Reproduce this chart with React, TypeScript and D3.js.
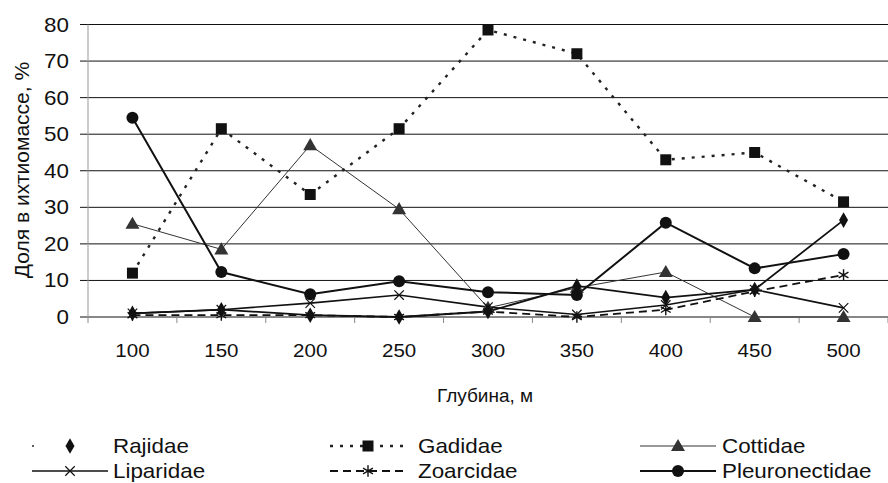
import React from "react";
import * as d3 from "d3";

const depths = ["100", "150", "200", "250", "300", "350", "400", "450", "500"];
const yTicks = [0, 10, 20, 30, 40, 50, 60, 70, 80];

const rajidae = [1, 2, 0.5, 0, 1.5, 8.5, 5.3, 7.5, 26.5];
const gadidae = [12, 51.5, 33.5, 51.5, 78.5, 72, 43, 45, 31.5];
const cottidae = [25.5, 18.5, 47, 29.5, 2.5, 8, 12.3, 0, 0];
const liparidae = [1, 2, 3.8, 6, 2.7, 0.7, 3.3, 7.5, 2.5];
const zoarcidae = [0.5, 0.5, 0.5, 0, 1.5, 0, 2, 7, 11.5];
const pleuronectidae = [54.5, 12.3, 6.2, 9.8, 6.8, 6, 25.8, 13.3, 17.2];

const yTitle = "Доля в ихтиомассе, %";
const xTitle = "Глубина, м";

type Series = {
  name: string;
  values: number[];
  marker: string;
  width: number;
  dash?: string;
  color: string;
};

const series: Series[] = [
  { name: "Cottidae", values: cottidae, marker: "triangle", width: 1, color: "#333" },
  { name: "Gadidae", values: gadidae, marker: "square", width: 2.4, dash: "3,7", color: "#222" },
  { name: "Liparidae", values: liparidae, marker: "times", width: 1.6, color: "#111" },
  { name: "Zoarcidae", values: zoarcidae, marker: "asterisk", width: 1.8, dash: "8,5", color: "#111" },
  { name: "Rajidae", values: rajidae, marker: "diamond", width: 1.8, color: "#111" },
  { name: "Pleuronectidae", values: pleuronectidae, marker: "circle", width: 2, color: "#111" },
];

const W = 888;
const H = 483;
const FONT = "'Liberation Sans', Arial, sans-serif";

const x = d3.scaleBand<string>().domain(depths).range([88, 888]).padding(0);
const y = d3.scaleLinear().domain([0, 80]).range([317, 24.5]);
const cx = (d: string) => (x(d) as number) + x.bandwidth() / 2;

function Marker({ type, px, py, color }: { type: string; px: number; py: number; color: string }) {
  const t = `translate(${px},${py})`;
  if (type === "circle") return <circle cx={px} cy={py} r={6} fill={color} />;
  if (type === "square")
    return <path transform={t} d={d3.symbol(d3.symbolSquare, 121)() as string} fill="#111" />;
  if (type === "triangle")
    return <path transform={`translate(${px},${py + 1})`} d={d3.symbol(d3.symbolTriangle, 85)() as string} fill={color} />;
  if (type === "diamond")
    return <path transform={t} d={d3.symbol(d3.symbolDiamond, 70)() as string} fill={color} />;
  if (type === "times")
    return <path transform={t} d={d3.symbol(d3.symbolTimes, 60)() as string} fill="none" stroke={color} strokeWidth={1.2} />;
  if (type === "asterisk")
    return <path transform={t} d={d3.symbol(d3.symbolAsterisk, 90)() as string} fill="none" stroke={color} strokeWidth={1.4} />;
  return null;
}

function HText({ x0, y0, anchor, size, sx, children }: any) {
  return (
    <text
      transform={`translate(${x0},${y0}) scale(${sx},1)`}
      textAnchor={anchor}
      fontSize={size}
      fontFamily={FONT}
      fill="#111"
    >
      {children}
    </text>
  );
}

export default function App() {
  const line = d3
    .line<number>()
    .x((_, i) => cx(depths[i]))
    .y((v) => y(v));

  const legend = [
    { s: series[4], lx: 32, ly: 446, tx: 113, noLine: true },
    { s: series[2], lx: 32, ly: 471, tx: 113 },
    { s: series[1], lx: 330, ly: 446, tx: 418 },
    { s: series[3], lx: 330, ly: 471, tx: 418 },
    { s: series[0], lx: 640, ly: 446, tx: 722 },
    { s: series[5], lx: 640, ly: 471, tx: 722 },
  ];

  return (
    <div style={{ position: "fixed", left: 0, top: 0 }}>
      <svg width={W} height={H} style={{ display: "block", background: "#fff" }}>
        {/* gridlines */}
        {yTicks.map((t) => (
          <line key={t} x1={80} x2={888} y1={y(t)} y2={y(t)} stroke="#111" strokeWidth={1} />
        ))}
        {/* y axis */}
        <line x1={88} x2={88} y1={y(80)} y2={y(0)} stroke="#999" strokeWidth={1} />
        {/* bottom ticks */}
        {depths.concat(["end"]).map((d, i) => {
          const xx = 88 + i * x.bandwidth();
          return <line key={i} x1={xx} x2={xx} y1={y(0)} y2={y(0) + 6} stroke="#888" strokeWidth={1} />;
        })}
        {/* y tick labels */}
        {yTicks.map((t) => (
          <HText key={t} x0={69} y0={y(t) + 7} anchor="end" size={20} sx={1.12}>
            {t}
          </HText>
        ))}
        {/* x tick labels */}
        {depths.map((d) => (
          <HText key={d} x0={cx(d)} y0={357} anchor="middle" size={19} sx={1.08}>
            {d}
          </HText>
        ))}
        <HText x0={485} y0={402} anchor="middle" size={19} sx={1.0}>
          {xTitle}
        </HText>
        <text
          transform="translate(29,170) rotate(-90)"
          textAnchor="middle"
          fontSize={21}
          fontFamily={FONT}
          fill="#111"
        >
          {yTitle}
        </text>
        {/* series lines */}
        {series.map((s) => (
          <path
            key={s.name}
            d={line(s.values) as string}
            fill="none"
            stroke={s.color}
            strokeWidth={s.width}
            strokeDasharray={s.dash}
          />
        ))}
        {/* markers */}
        {series.map((s) =>
          s.values.map((v, i) => (
            <Marker key={s.name + i} type={s.marker} px={cx(depths[i])} py={y(v)} color={s.color} />
          ))
        )}
        {/* legend */}
        {legend.map(({ s, lx, ly, tx, noLine }) => (
          <g key={s.name}>
            {noLine ? (
              <circle cx={lx + 1} cy={ly} r={0.9} fill="#111" />
            ) : (
              <line
                x1={lx}
                x2={lx + 76}
                y1={ly}
                y2={ly}
                stroke={s.color}
                strokeWidth={s.width}
                strokeDasharray={s.dash}
              />
            )}
            <Marker type={s.marker} px={lx + 38} py={ly} color={s.color} />
            <HText x0={tx} y0={ly + 7} anchor="start" size={20} sx={1.12}>
              {s.name}
            </HText>
          </g>
        ))}
      </svg>
    </div>
  );
}
